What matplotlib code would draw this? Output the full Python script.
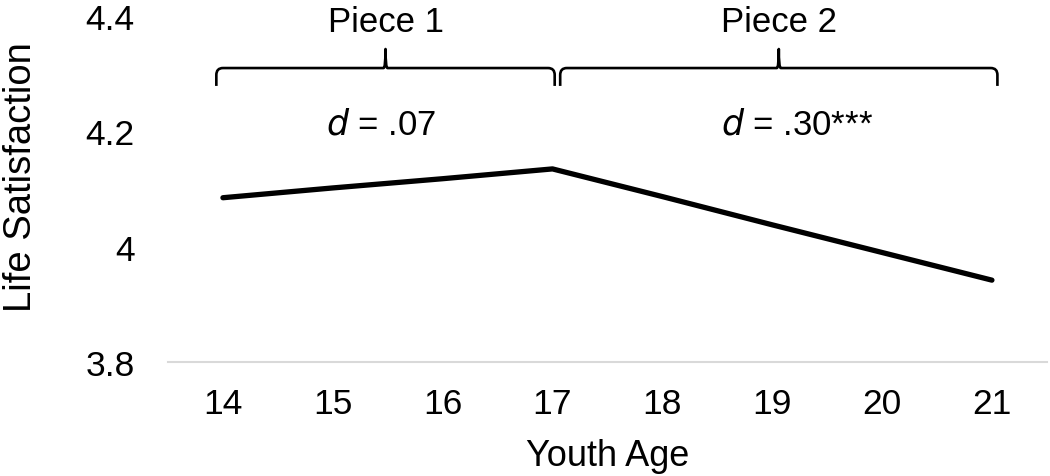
import numpy as np
import matplotlib
matplotlib.use("Agg")
import matplotlib.pyplot as plt
from matplotlib.path import Path
from matplotlib.patches import PathPatch

plt.rcParams['font.family'] = ['Liberation Sans', 'DejaVu Sans']

# === DATA ===
ages = [14, 15, 16, 17, 18, 19, 20, 21]
life_sat = [4.085, 4.102, 4.118, 4.135, 4.087, 4.038, 3.990, 3.942]
y_ticks = [3.8, 4.0, 4.2, 4.4]
y_tick_labels = ["3.8", "4", "4.2", "4.4"]

piece_labels = ["Piece 1", "Piece 2"]
piece_spans = [(13.94, 17.02), (17.07, 21.05)]
piece_effects = [r"$\it{d}$ = .07", r"$\it{d}$ = .30***"]
effect_shift = [-0.04, 0.17]   # small nudge of the d labels off-centre


def brace(ax, x0, x1, yb, yh, yt, rx=0.06, ry=0.012, lw=1.9):
    xm = (x0 + x1) / 2
    verts = [
        (x0, yb), (x0, yh - ry),
        (x0, yh), (x0 + rx, yh),
        (xm - rx * 0.3, yh),
        (xm, yh), (xm, yt),
        (xm, yh), (xm + rx * 0.3, yh),
        (x1 - rx, yh),
        (x1, yh), (x1, yh - ry),
        (x1, yb),
    ]
    codes = [
        Path.MOVETO, Path.LINETO,
        Path.CURVE3, Path.CURVE3,
        Path.LINETO,
        Path.CURVE3, Path.CURVE3,
        Path.CURVE3, Path.CURVE3,
        Path.LINETO,
        Path.CURVE3, Path.CURVE3,
        Path.LINETO,
    ]
    patch = PathPatch(Path(verts, codes), fill=False, lw=lw,
                      edgecolor='black', clip_on=False,
                      capstyle='butt', joinstyle='round')
    ax.add_patch(patch)


fig = plt.figure(figsize=(10.5, 4.77), dpi=100)
ax = fig.add_axes([0.16, 0.239, 0.837, 0.725])

ax.plot(ages, life_sat, color='black', lw=3.8, solid_capstyle='round',
        solid_joinstyle='round', clip_on=False)

ax.set_xlim(13.5, 21.5)
ax.set_ylim(3.8, 4.4)
ax.set_xticks(ages)
ax.set_xticklabels([str(a) for a in ages])
ax.set_yticks(y_ticks)
ax.set_yticklabels(y_tick_labels)
ax.tick_params(axis='both', length=0, labelsize=25.5)
ax.tick_params(axis='x', pad=18)
ax.tick_params(axis='y', pad=24)

for side in ['top', 'right', 'left']:
    ax.spines[side].set_visible(False)
ax.spines['bottom'].set_color('#d9d9d9')
ax.spines['bottom'].set_linewidth(1.5)

ax.set_xlabel("Youth Age", fontsize=26, labelpad=13)
ax.set_ylabel("Life Satisfaction", fontsize=27.5)
ax.yaxis.label.set_va('center')
ax.yaxis.set_label_coords(-0.167, 0.538)

for (x0, x1), lab, eff, dx in zip(piece_spans, piece_labels,
                                  piece_effects, effect_shift):
    brace(ax, x0, x1, 4.279, 4.310, 4.343)
    xm = (x0 + x1) / 2
    ax.text(xm, 4.39, lab, fontsize=25, ha='center', va='center',
            clip_on=False)
    ax.text(xm + dx, 4.213, eff, fontsize=25, ha='center', va='center')

fig.savefig("out.png", dpi=100)
